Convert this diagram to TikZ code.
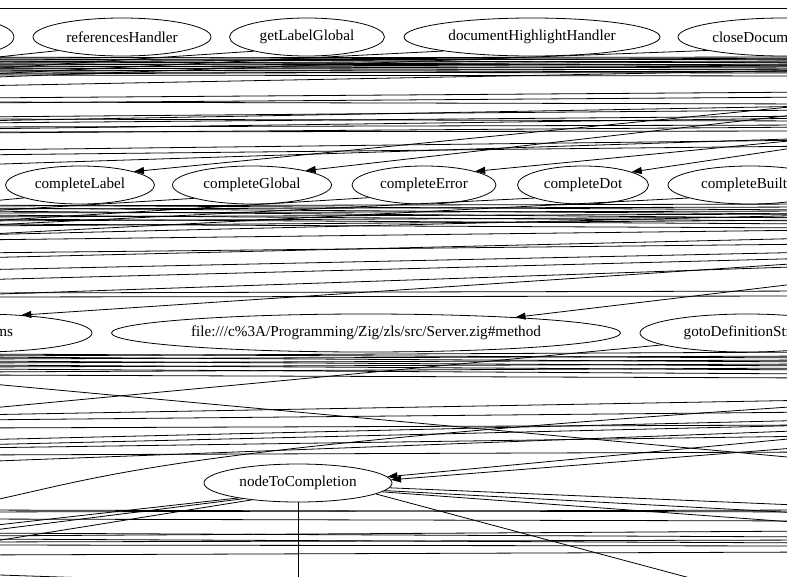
\documentclass[tikz,border=0pt]{standalone}
\usepackage{fontspec}
\setmainfont{Liberation Serif}
\usetikzlibrary{shapes.geometric,arrows.meta}

\begin{document}
\begin{tikzpicture}[x=1pt, y=-1pt, line width=0.8pt,
    every node/.style={font=\fontsize{15.2}{17}\selectfont},
    fn/.style={draw, ellipse, inner sep=0pt, minimum height=38pt},
    call/.style={-{Triangle[length=10pt,width=7pt]}}]
  \useasboundingbox (0,0) rectangle (787,576);
  \clip (0,0) rectangle (787,576);
  % first row of handlers
  \node[fn, minimum width=120pt] (leftone) at (-46,37) {};
  \node[fn, minimum width=178pt] (refs) at (122,37) {referencesHandler};
  \node[fn, minimum width=155pt] (getlbl) at (307,37) {getLabelGlobal};
  \node[fn, minimum width=256pt] (dochl) at (532,37) {documentHighlightHandler};
  \node[fn, minimum width=212pt] (closedoc) at (784,37) {closeDocumentHandler};
  % completion row
  \node[fn, minimum width=149pt] (cLabel) at (80,185) {completeLabel};
  \node[fn, minimum width=159pt] (cGlobal) at (252,185) {completeGlobal};
  \node[fn, minimum width=144pt] (cError) at (424,185) {completeError};
  \node[fn, minimum width=131pt] (cDot) at (583,185) {completeDot};
  \node[fn, minimum width=164pt] (cBuiltin) at (750,185) {completeBuiltin};
  % third row
  \node[fn, minimum width=230pt, text width=72pt, align=right] (items) at (-23,333) {ms};
  \node[fn, minimum width=509pt] (method) at (366,333) {file:///c\%3A/Programming/Zig/zls/src/Server.zig\#method};
  \node[fn, minimum width=214pt] (gotodef) at (747,333) {gotoDefinitionString};
  % bottom
  \node[fn, minimum width=188pt] (n2c) at (298,483) {nodeToCompletion};

  % long edges that only pass through
  \coordinate (topw) at (-30,8);
  \coordinate (tope) at (820,8);
  \draw (topw) -- (tope);
  \foreach \ya/\yb [count=\i] in {57/60, 58/57, 59/63, 60/59, 61/66, 62/58, 63/61, 64/65,
      65/62, 66/68, 67/64, 68/70, 69/66, 70/72, 71/69, 72/73, 74/71, 75/76,
      86/70, 98/92, 103/97, 102/104, 117/110, 119/121, 121/106, 123/116, 127/125,
      129/118, 132/131, 133/127, 150/140, 155/146, 165/138,
      205/210, 206/204, 208/214, 209/207, 211/218, 213/211, 215/221, 217/214,
      219/224, 221/217, 224/228, 226/220, 235/215, 240/230, 253/244, 258/238,
      270/252, 280/258, 295/266, 293/291, 297/296,
      354/358, 356/352, 357/362, 359/356, 361/366, 363/360, 365/370, 367/364,
      369/374, 372/368, 375/378, 382/460, 415/400, 420/412, 428/425, 440/420,
      445/425, 448/436, 455/452, 462/430,
      510/512, 512/510, 519/521, 533/537, 536/531, 539/543, 542/540, 545/546, 555/552} {
    \coordinate (w\i) at (-30,\ya);
    \coordinate (e\i) at (820,\yb);
    \draw (w\i) -- (e\i);
  }
  \coordinate (lowa) at (-30,574);
  \coordinate (lowb) at (150,580);
  \draw (lowa) -- (lowb);
  \coordinate (swa) at (-30,505);
  \coordinate (swb) at (820,405);
  \draw (swa) .. controls (100,480) and (130,450) .. (swb);

  % calls leaving the picture to the left
  \foreach \src/\y [count=\i] in {refs.192/60, getlbl.195/70, dochl.189/75, closedoc.190/78,
      cLabel.193/203, cGlobal.193/212, cError.193/222, cDot.195/226, cBuiltin.192/235,
      gotodef.188/410, n2c.194/528, n2c.196/533, n2c.200/545} {
    \coordinate (out\i) at (-30,\y);
    \draw (\src) -- (out\i);
  }
  % calls leaving to the right and below
  \foreach \src/\y [count=\i] in {n2c.-3/506, n2c.-5/514, n2c.-6/524} {
    \coordinate (rt\i) at (820,\y);
    \draw (\src) -- (rt\i);
  }
  \coordinate (diag) at (735,590);
  \draw (n2c.-8) -- (diag);
  \coordinate (down) at (298,590);
  \draw (n2c.south) -- (down);

  % arrows coming in from the right
  \foreach \y/\dst [count=\i] in {104/cLabel.14, 112/cGlobal.15, 138/cError.15, 144/cDot.15,
      262/items.22, 281/method.6, 436/n2c.4, 446/n2c.2} {
    \coordinate (in\i) at (820,\y);
    \draw[call] (in\i) -- (\dst);
  }
\end{tikzpicture}
\end{document}
